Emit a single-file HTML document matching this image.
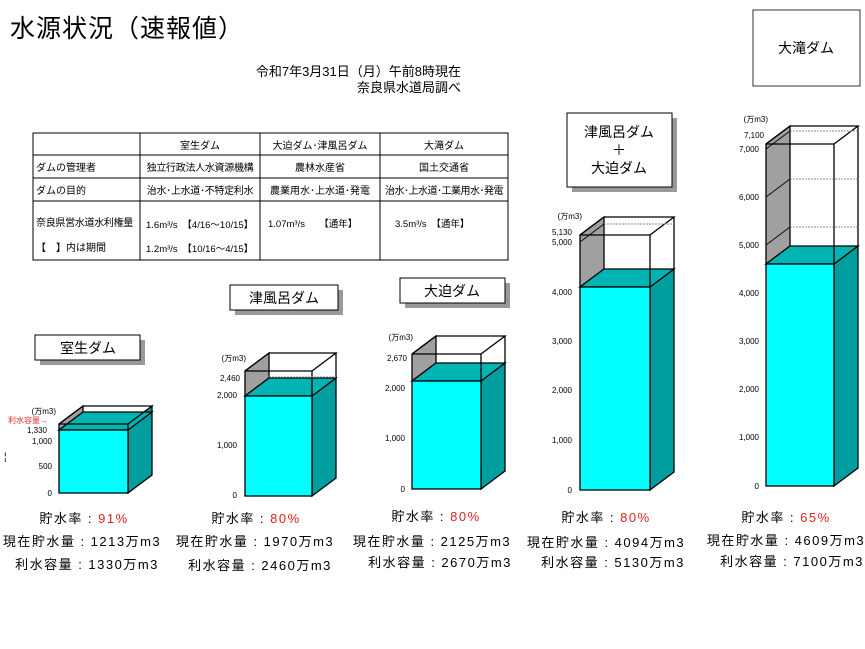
<!DOCTYPE html>
<html><head><meta charset="utf-8"><style>
body{margin:0;background:#fff;}
svg{display:block;font-family:"Liberation Sans","Noto Sans CJK JP",sans-serif;}
</style></head><body>
<svg width="865" height="649" viewBox="0 0 865 649" xmlns="http://www.w3.org/2000/svg">
<text x="10" y="37" font-size="25" letter-spacing="1">水源状況（速報値）</text>
<text x="461" y="76" font-size="13" text-anchor="end">令和7年3月31日（月）午前8時現在</text>
<text x="461" y="92" font-size="13" text-anchor="end">奈良県水道局調べ</text>

<!-- table -->
<g stroke="#000" fill="none" stroke-width="1">
<rect x="33" y="133" width="475" height="127"/>
<line x1="140" y1="133" x2="140" y2="260"/>
<line x1="260" y1="133" x2="260" y2="260"/>
<line x1="380" y1="133" x2="380" y2="260"/>
<line x1="33" y1="155" x2="508" y2="155"/>
<line x1="33" y1="178" x2="508" y2="178"/>
<line x1="33" y1="201" x2="508" y2="201"/>
</g>
<g font-size="10" text-anchor="middle">
<text x="200" y="149">室生ダム</text><text x="320" y="149">大迫ダム･津風呂ダム</text><text x="444" y="149">大滝ダム</text>
<text x="200" y="171" letter-spacing="-0.3">独立行政法人水資源機構</text><text x="320" y="171">農林水産省</text><text x="444" y="171">国土交通省</text>
<text x="200" y="194" letter-spacing="-0.3">治水･上水道･不特定利水</text><text x="320" y="194">農業用水･上水道･発電</text><text x="444" y="194" letter-spacing="-0.5">治水･上水道･工業用水･発電</text>
</g>
<g font-size="10">
<text x="36" y="171">ダムの管理者</text><text x="36" y="194">ダムの目的</text>
<text x="36" y="226" letter-spacing="-0.3">奈良県営水道水利権量</text><text x="36" y="251">【　】内は期間</text>
<text x="146" y="228" font-size="9.5">1.6m³/s　【4/16～10/15】</text>
<text x="146" y="252" font-size="9.5">1.2m³/s　【10/16～4/15】</text>
<text x="268" y="227" font-size="9.5">1.07m³/s　　【通年】</text>
<text x="395" y="227" font-size="9.5">3.5m³/s　【通年】</text>
</g>

<!-- label boxes -->
<g stroke="#000" stroke-width="1">
<rect x="40" y="340" width="105" height="25" fill="#999" stroke="none"/>
<rect x="35" y="335" width="105" height="25" fill="#fff"/>
<rect x="235" y="290" width="108" height="25" fill="#999" stroke="none"/>
<rect x="230" y="285" width="108" height="25" fill="#fff"/>
<rect x="405" y="283" width="105" height="25" fill="#999" stroke="none"/>
<rect x="400" y="278" width="105" height="25" fill="#fff"/>
<rect x="572" y="118" width="105" height="74" fill="#999" stroke="none"/>
<rect x="567" y="113" width="105" height="74" fill="#fff"/>
<rect x="753" y="10" width="107" height="76" fill="#fff" stroke-width="0.8"/>
</g>
<g font-size="14" text-anchor="middle">
<text x="88" y="353">室生ダム</text>
<text x="284" y="303">津風呂ダム</text>
<text x="452" y="296">大迫ダム</text>
<text x="619" y="137">津風呂ダム</text>
<text x="619" y="155">＋</text>
<text x="619" y="173">大迫ダム</text>
<text x="806" y="53">大滝ダム</text>
</g>

<!-- Dam1 -->
<g stroke="#000" stroke-width="1.3">
<polygon points="59,430 83,412 83,406 59,424" fill="#a0a0a0"/>
<polygon points="128,424 152,406 152,475 128,493" fill="#009e9e"/>
<polygon points="59,430 128,430 152,412 83,412" fill="#00b4b4"/>
<rect x="59" y="430" width="69" height="63" fill="#00ffff"/>
<polyline points="59,424 128,424 152,406 83,406 59,424" fill="none"/>
<line x1="128" y1="424" x2="128" y2="430"/>
</g>
<!-- Dam2 -->
<g stroke="#000" stroke-width="1.3">
<polygon points="245,396 269,378 269,353 245,371" fill="#a0a0a0"/>
<polygon points="312,396 336,378 336,478 312,496" fill="#009e9e"/>
<polygon points="245,396 312,396 336,378 269,378" fill="#00b4b4"/>
<rect x="245" y="396" width="67" height="100" fill="#00ffff"/>
<polyline points="245,371 312,371 336,353 269,353 245,371" fill="none"/>
<line x1="312" y1="371" x2="312" y2="396"/><line x1="336" y1="353" x2="336" y2="378"/>
<line x1="269" y1="377" x2="336" y2="377" stroke="#888" stroke-dasharray="2,1" stroke-width="1"/>
</g>
<!-- Dam3 -->
<g stroke="#000" stroke-width="1.3">
<polygon points="412,381 436,363 436,336 412,354" fill="#a0a0a0"/>
<polygon points="481,381 505,363 505,471 481,489" fill="#009e9e"/>
<polygon points="412,381 481,381 505,363 436,363" fill="#00b4b4"/>
<rect x="412" y="381" width="69" height="108" fill="#00ffff"/>
<polyline points="412,354 481,354 505,336 436,336 412,354" fill="none"/>
<line x1="481" y1="354" x2="481" y2="381"/><line x1="505" y1="336" x2="505" y2="363"/>
</g>
<!-- Dam4 -->
<g stroke="#000" stroke-width="1.3">
<polygon points="580,287 604,269 604,217 580,235" fill="#a0a0a0"/>
<polygon points="650,287 674,269 674,472 650,490" fill="#009e9e"/>
<polygon points="580,287 650,287 674,269 604,269" fill="#00b4b4"/>
<rect x="580" y="287" width="70" height="203" fill="#00ffff"/>
<polyline points="580,235 650,235 674,217 604,217 580,235" fill="none"/>
<line x1="650" y1="235" x2="650" y2="287"/><line x1="674" y1="217" x2="674" y2="269"/>
<line x1="604" y1="224" x2="674" y2="224" stroke="#888" stroke-dasharray="2,1" stroke-width="1"/>
<line x1="580" y1="242" x2="604" y2="224" stroke-width="0.8"/>
</g>
<!-- Dam5 -->
<g stroke="#000" stroke-width="1.3">
<polygon points="766,264 790,246 790,126 766,144" fill="#a0a0a0"/>
<polygon points="834,264 858,246 858,468 834,486" fill="#009e9e"/>
<polygon points="766,264 834,264 858,246 790,246" fill="#00b4b4"/>
<rect x="766" y="264" width="68" height="222" fill="#00ffff"/>
<polyline points="766,144 834,144 858,126 790,126 766,144" fill="none"/>
<line x1="834" y1="144" x2="834" y2="264"/><line x1="858" y1="126" x2="858" y2="246"/>
<g stroke="#888" stroke-dasharray="2,1" stroke-width="1">
<line x1="790" y1="131" x2="858" y2="131"/><line x1="790" y1="179" x2="858" y2="179"/><line x1="790" y1="227" x2="858" y2="227"/>
</g>
<g stroke-width="0.8"><line x1="766" y1="197" x2="790" y2="179"/><line x1="766" y1="245" x2="790" y2="227"/><line x1="766" y1="149" x2="790" y2="131"/></g>
</g>

<!-- axis labels -->
<g font-size="8" text-anchor="end" fill="#000">
<text x="52" y="496">0</text><text x="52" y="469">500</text><text x="52" y="444">1,000</text><text x="47" y="433">1,330</text>
<text x="56" y="414">(万m3)</text>
<text x="237" y="498">0</text><text x="237" y="448">1,000</text><text x="237" y="398">2,000</text><text x="240" y="381">2,460</text><text x="246" y="361">(万m3)</text>
<text x="405" y="492">0</text><text x="405" y="441">1,000</text><text x="405" y="391">2,000</text><text x="407" y="361">2,670</text><text x="413" y="340">(万m3)</text>
<text x="572" y="493">0</text><text x="572" y="443">1,000</text><text x="572" y="344">3,000</text><text x="572" y="393">2,000</text><text x="572" y="295">4,000</text><text x="572" y="245">5,000</text><text x="572" y="235">5,130</text><text x="582" y="219">(万m3)</text>
<text x="759" y="489">0</text><text x="759" y="440">1,000</text><text x="759" y="392">2,000</text><text x="759" y="344">3,000</text><text x="759" y="296">4,000</text><text x="759" y="248">5,000</text><text x="759" y="200">6,000</text><text x="759" y="152">7,000</text><text x="764" y="138">7,100</text><text x="768" y="122">(万m3)</text>
</g>
<text x="8" y="423" font-size="8" fill="#e03030">利水容量→</text>
<text x="4" y="460" font-size="10">¦</text>

<!-- stats -->
<g font-size="13" letter-spacing="1.5">
<g text-anchor="middle">
<text x="84" y="523">貯水率 : <tspan fill="#e02020">91%</tspan></text>
<text x="82" y="546">現在貯水量 : 1213万m3</text>
<text x="87" y="569">利水容量 : 1330万m3</text>
<text x="256" y="523">貯水率 : <tspan fill="#e02020">80%</tspan></text>
<text x="255" y="546">現在貯水量 : 1970万m3</text>
<text x="260" y="570">利水容量 : 2460万m3</text>
<text x="436" y="521">貯水率 : <tspan fill="#e02020">80%</tspan></text>
<text x="432" y="546">現在貯水量 : 2125万m3</text>
<text x="440" y="567">利水容量 : 2670万m3</text>
<text x="606" y="522">貯水率 : <tspan fill="#e02020">80%</tspan></text>
<text x="606" y="547">現在貯水量 : 4094万m3</text>
<text x="613" y="567">利水容量 : 5130万m3</text>
<text x="786" y="522">貯水率 : <tspan fill="#e02020">65%</tspan></text>
<text x="786" y="545">現在貯水量 : 4609万m3</text>
<text x="792" y="566">利水容量 : 7100万m3</text>
</g></g>
</svg>
</body></html>
